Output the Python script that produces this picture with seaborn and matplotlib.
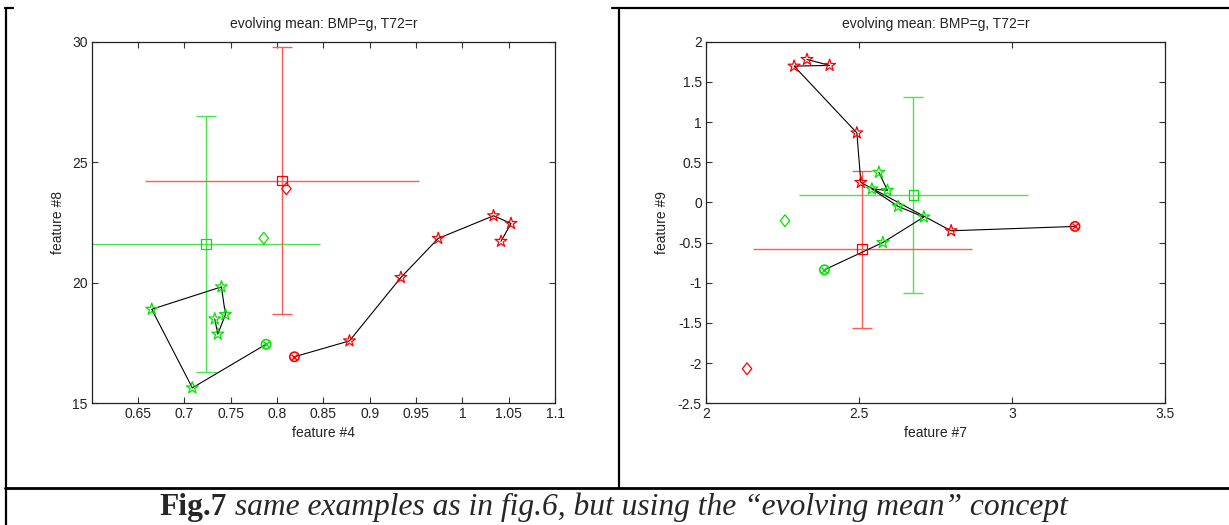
import matplotlib
matplotlib.use("Agg")
import matplotlib.pyplot as plt
import seaborn as sns
import numpy as np
import pandas as pd
from matplotlib.lines import Line2D
from matplotlib.path import Path
from matplotlib.markers import MarkerStyle

# ---------------- data ----------------
# left panel (feature #4 vs feature #8)
l_green_x = [0.7882, 0.7086, 0.6648, 0.7400, 0.7443, 0.7361, 0.7328]
l_green_y = [17.45, 15.64, 18.90, 19.83, 18.68, 17.87, 18.50]
l_red_x = [0.8188, 0.8782, 0.9337, 0.9740, 1.0337, 1.0525, 1.0417]
l_red_y = [16.93, 17.59, 20.22, 21.84, 22.78, 22.46, 21.72]
l_mean_green = [0.7231, 21.60]
l_err_green = [0.123, 5.30]
l_mean_red = [0.8052, 24.24]
l_err_red = [0.1476, 5.53]
l_diam_green = [0.7857, 21.85]
l_diam_red = [0.8101, 23.90]
l_xticks = [0.65, 0.7, 0.75, 0.8, 0.85, 0.9, 0.95, 1.0, 1.05, 1.1]
l_xticklabels = ["0.65", "0.7", "0.75", "0.8", "0.85", "0.9", "0.95", "1", "1.05", "1.1"]
l_yticks = [15, 20, 25, 30]

# right panel (feature #7 vs feature #9)
r_green_x = [2.387, 2.578, 2.712, 2.628, 2.542, 2.593, 2.565]
r_green_y = [-0.839, -0.499, -0.182, -0.050, 0.167, 0.150, 0.374]
r_red_x = [3.206, 2.801, 2.506, 2.493, 2.288, 2.404, 2.330]
r_red_y = [-0.299, -0.353, 0.249, 0.865, 1.696, 1.705, 1.779]
r_mean_green = [2.678, 0.092]
r_err_green = [0.375, 1.22]
r_mean_red = [2.511, -0.581]
r_err_red = [0.357, 0.976]
r_diam_green = [2.258, -0.228]
r_diam_red = [2.134, -2.07]
r_xticks = [2, 2.5, 3, 3.5]
r_xticklabels = ["2", "2.5", "3", "3.5"]
r_yticks = [-2.5, -2, -1.5, -1, -0.5, 0, 0.5, 1, 1.5, 2]
r_yticklabels = ["-2.5", "-2", "-1.5", "-1", "-0.5", "0", "0.5", "1", "1.5", "2"]

title_text = "evolving mean: BMP=g, T72=r"
caption_bold = "Fig.7"
caption_rest = " same examples as in fig.6, but using the \u201cevolving mean\u201d concept"

# ---------------- style ----------------
sns.set_theme(style="white")
plt.rcParams["font.family"] = ["Liberation Sans", "DejaVu Sans"]
plt.rcParams.update({
    "xtick.direction": "in", "ytick.direction": "in",
    "xtick.top": True, "ytick.right": True,
    "xtick.bottom": True, "ytick.left": True,
    "xtick.major.size": 4.5, "ytick.major.size": 4.5,
    "xtick.major.width": 0.8, "ytick.major.width": 0.8,
    "xtick.color": "#333333", "ytick.color": "#333333",
    "axes.edgecolor": "#222222", "axes.linewidth": 0.9,
    "xtick.labelsize": 10, "ytick.labelsize": 10,
})

W, H = 1229, 525
fig = plt.figure(figsize=(W / 100, H / 100), dpi=100)
fig.patch.set_facecolor("white")

def px_axes(x0, x1, ytop, ybot):
    return fig.add_axes([x0 / W, 1 - ybot / H, (x1 - x0) / W, (ybot - ytop) / H])

axL = px_axes(91.7, 555.0, 41.7, 403.3)
axR = px_axes(706.0, 1165.0, 41.7, 403.3)

RED = "#ff0000"
GREEN = "#00e600"
RED_BAR = "#ff5a5a"
GREEN_BAR = "#4fe34f"

DIAMOND = MarkerStyle(Path([(0, 1), (0.8, 0), (0, -1), (-0.8, 0), (0, 1)],
                           [Path.MOVETO, Path.LINETO, Path.LINETO, Path.LINETO, Path.CLOSEPOLY]))

def panel(ax, gx, gy, rx, ry, mg, eg, mr, er, dg, dr):
    # error crosses
    for m, e, c in ((mg, eg, GREEN_BAR), (mr, er, RED_BAR)):
        ax.errorbar([m[0]], [m[1]], yerr=[e[1]], fmt="none", ecolor=c,
                    elinewidth=1.0, capsize=7, capthick=1.0, zorder=2)
        ax.errorbar([m[0]], [m[1]], xerr=[e[0]], fmt="none", ecolor=c,
                    elinewidth=1.0, capsize=0, zorder=2)
    # trajectories
    for xs, ys in ((gx, gy), (rx, ry)):
        df = pd.DataFrame({"x": xs, "y": ys})
        sns.lineplot(data=df, x="x", y="y", sort=False, estimator=None,
                     color="black", linewidth=0.8, ax=ax, zorder=3)
    # stars (all but first point) and start circles
    for xs, ys, c in ((gx, gy, GREEN), (rx, ry, RED)):
        sns.scatterplot(x=xs[1:], y=ys[1:], marker="*", s=80, facecolor="none",
                        edgecolor=c, linewidth=0.9, ax=ax, zorder=4)
        sns.scatterplot(x=xs[:1], y=ys[:1], marker="o", s=45, facecolor="none",
                        edgecolor=c, linewidth=1.2, ax=ax, zorder=4)
        sns.scatterplot(x=xs[:1], y=ys[:1], marker="x", s=18, color=c,
                        linewidth=1.0, ax=ax, zorder=4)
    # mean squares
    for m, c in ((mg, GREEN), (mr, RED)):
        sns.scatterplot(x=[m[0]], y=[m[1]], marker="s", s=50, facecolor="none",
                        edgecolor=c, linewidth=0.9, ax=ax, zorder=4)
    # diamonds
    for d, c in ((dg, GREEN), (dr, RED)):
        sns.scatterplot(x=[d[0]], y=[d[1]], marker=DIAMOND, s=72, facecolor="none",
                        edgecolor=c, linewidth=0.9, ax=ax, zorder=4)
    for sp in ax.spines.values():
        sp.set_visible(True)

panel(axL, l_green_x, l_green_y, l_red_x, l_red_y, l_mean_green, l_err_green,
      l_mean_red, l_err_red, l_diam_green, l_diam_red)
panel(axR, r_green_x, r_green_y, r_red_x, r_red_y, r_mean_green, r_err_green,
      r_mean_red, r_err_red, r_diam_green, r_diam_red)

axL.set_xlim(0.6, 1.1)
axL.set_ylim(15, 30)
axL.set_xticks(l_xticks)
axL.set_xticklabels(l_xticklabels)
axL.set_yticks(l_yticks)
axL.set_yticklabels([str(v) for v in l_yticks])

axR.set_xlim(2, 3.5)
axR.set_ylim(-2.5, 2)
axR.set_xticks(r_xticks)
axR.set_xticklabels(r_xticklabels)
axR.set_yticks(r_yticks)
axR.set_yticklabels(r_yticklabels)

for ax, xl, yl, ylx in ((axL, "feature #4", "feature #8", -0.073),
                        (axR, "feature #7", "feature #9", -0.096)):
    ax.set_xlabel(xl, fontsize=10, color="#222222")
    ax.set_ylabel(yl, fontsize=10, color="#222222")
    ax.xaxis.set_label_coords(0.5, -0.082)
    ax.xaxis.label.set_va("center")
    ax.yaxis.set_label_coords(ylx, 0.5)
    ax.yaxis.label.set_va("center")
    ax.set_title(title_text, fontsize=10, color="#222222", y=1.049, va="center", pad=0)
    ax.tick_params(axis="both", which="major", pad=3, labelcolor="#222222")

# ---------------- document table lines ----------------
def hline(y, x0, x1, lw=1.6):
    fig.add_artist(Line2D([x0 / W, x1 / W], [1 - y / H, 1 - y / H], color="black", lw=lw))

def vline(x, y0, y1, lw=1.6):
    fig.add_artist(Line2D([x / W, x / W], [1 - y0 / H, 1 - y1 / H], color="black", lw=lw))

vline(5.5, 7.5, 525)
vline(619.5, 7.5, 488)
hline(8, 4.8, 13)
hline(8, 612, 1229)
hline(488, 4.8, 1229, lw=2.0)

# ---------------- caption ----------------
fig.canvas.draw()
r = fig.canvas.get_renderer()
cap_kw = dict(fontsize=22.7, family=["Liberation Serif", "DejaVu Serif"], va="center")
t1 = fig.text(0, 1 - 507.5 / H, caption_bold, fontweight="bold", **cap_kw)
t2 = fig.text(0, 1 - 507.5 / H, caption_rest, fontstyle="italic", **cap_kw)
w1 = t1.get_window_extent(r).width
w2 = t2.get_window_extent(r).width
start = 614 - (w1 + w2) / 2
t1.set_x(start / W)
t2.set_x((start + w1) / W)

fig.savefig("out.png", dpi=100, facecolor="white")
